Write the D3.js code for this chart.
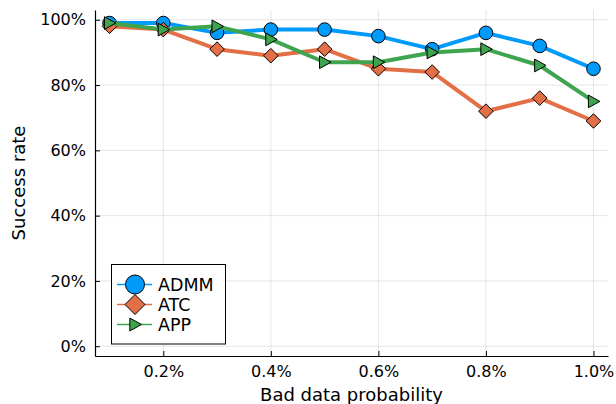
<!DOCTYPE html>
<html>
<head>
<meta charset="utf-8">
<script src="https://cdn.jsdelivr.net/npm/d3@7"></script>
<style>
  html, body { margin: 0; padding: 0; background: #fff; }
  svg text { font-family: "DejaVu Sans", sans-serif; fill: #000; }
</style>
</head>
<body>
<svg id="chart" width="616" height="404"></svg>
<script>
// Bad data probability (%) on the x axis
const probabilities = [0.1, 0.2, 0.3, 0.4, 0.5, 0.6, 0.7, 0.8, 0.9, 1.0];
// Success rate (%) per method
const admm = [99, 99, 96, 97, 97, 95, 91, 96, 92, 85];
const atc  = [98, 97, 91, 89, 91, 85, 84, 72, 76, 69];
const app  = [99, 97, 98, 94, 87, 87, 90, 91, 86, 75];
const seriesNames = ["ADMM", "ATC", "APP"];
const xTicks = [0.2, 0.4, 0.6, 0.8, 1.0];
const yTicks = [0, 20, 40, 60, 80, 100];

const series = [
  { name: seriesNames[0], values: admm, color: "#009AFA", marker: "circle" },
  { name: seriesNames[1], values: atc,  color: "#E36F47", marker: "diamond" },
  { name: seriesNames[2], values: app,  color: "#3EA44E", marker: "triangle" }
];

const svg = d3.select("#chart");
const plotLeft = 95, plotRight = 608, plotTop = 10, plotBottom = 356;

const x = d3.scaleLinear().domain([0.073, 1.027]).range([plotLeft, plotRight]);
const y = d3.scaleLinear().domain([-3, 103]).range([plotBottom, plotTop]);

// grid
const grid = svg.append("g");
grid.selectAll("line.vx").data(xTicks).join("line")
  .attr("x1", d => x(d)).attr("x2", d => x(d))
  .attr("y1", plotTop).attr("y2", plotBottom)
  .attr("stroke", "#000").attr("stroke-opacity", 0.1).attr("stroke-width", 1);
grid.selectAll("line.hy").data(yTicks).join("line")
  .attr("x1", plotLeft).attr("x2", plotRight)
  .attr("y1", d => y(d)).attr("y2", d => y(d))
  .attr("stroke", "#000").attr("stroke-opacity", 0.1).attr("stroke-width", 1);

// axes
const xAxis = d3.axisBottom(x).tickValues(xTicks)
  .tickSizeInner(-5).tickSizeOuter(0)
  .tickFormat(d => d.toFixed(1) + "%");
const gx = svg.append("g").attr("transform", `translate(0,${plotBottom})`).call(xAxis);
gx.select(".domain").attr("stroke", "#000").attr("stroke-width", 1.2);
gx.selectAll(".tick line").attr("stroke", "#000");
gx.selectAll(".tick text").attr("font-size", "16px").attr("y", 10).attr("dy", "0.71em")
  .style("font-family", "DejaVu Sans");

const yAxis = d3.axisLeft(y).tickValues(yTicks)
  .tickSizeInner(-5).tickSizeOuter(0)
  .tickFormat(d => d + "%");
const gy = svg.append("g").attr("transform", `translate(${plotLeft},0)`).call(yAxis);
gy.select(".domain").attr("stroke", "#000").attr("stroke-width", 1.2);
gy.selectAll(".tick line").attr("stroke", "#000");
gy.selectAll(".tick text").attr("font-size", "16px").attr("x", -9)
  .style("font-family", "DejaVu Sans");

// axis titles
svg.append("text").attr("x", (plotLeft + plotRight) / 2).attr("y", 401)
  .attr("text-anchor", "middle").attr("font-size", "18px")
  .text("Bad data probability");
svg.append("text").attr("transform", `translate(25,${(plotTop + plotBottom) / 2}) rotate(-90)`)
  .attr("text-anchor", "middle").attr("font-size", "18px")
  .text("Success rate");

// marker path generator
function markerPath(type, r) {
  if (type === "circle") {
    return d3.symbol(d3.symbolCircle, Math.PI * r * r)();
  }
  if (type === "diamond") {
    return `M0,${-r}L${r},0L0,${r}L${-r},0Z`;
  }
  // right-pointing triangle
  const h = r * 0.95;
  return `M${h},0L${-h * 0.8},${-h}L${-h * 0.8},${h}Z`;
}
const markerSize = { circle: 6.8, diamond: 7.3, triangle: 6.7 };

const line = d3.line().x((d, i) => x(probabilities[i])).y(d => y(d));

series.forEach(s => {
  const g = svg.append("g");
  g.append("path").datum(s.values)
    .attr("d", line).attr("fill", "none")
    .attr("stroke", s.color).attr("stroke-width", 4)
    .attr("stroke-linejoin", "round");
  g.selectAll("path.m").data(s.values).join("path")
    .attr("class", "m")
    .attr("transform", (d, i) => `translate(${x(probabilities[i])},${y(d)})`)
    .attr("d", markerPath(s.marker, markerSize[s.marker]))
    .attr("fill", s.color).attr("stroke", "#000").attr("stroke-width", 1);
});

// legend
const legend = svg.append("g");
legend.append("rect").attr("x", 111.5).attr("y", 264.5).attr("width", 114).attr("height", 79.5)
  .attr("fill", "#fff").attr("stroke", "#000").attr("stroke-width", 1);
series.forEach((s, i) => {
  const ly = 284.5 + i * 20;
  legend.append("line").attr("x1", 117).attr("x2", 152).attr("y1", ly).attr("y2", ly)
    .attr("stroke", s.color).attr("stroke-width", 1.5);
  const lr = { circle: 9.5, diamond: 10, triangle: 6.8 }[s.marker];
  legend.append("path").attr("transform", `translate(135,${ly})`)
    .attr("d", markerPath(s.marker, lr))
    .attr("fill", s.color).attr("stroke", "#000").attr("stroke-width", 1);
  legend.append("text").attr("x", 158).attr("y", ly).attr("dy", "0.36em")
    .attr("font-size", "17.5px").text(s.name);
});
</script>
</body>
</html>
